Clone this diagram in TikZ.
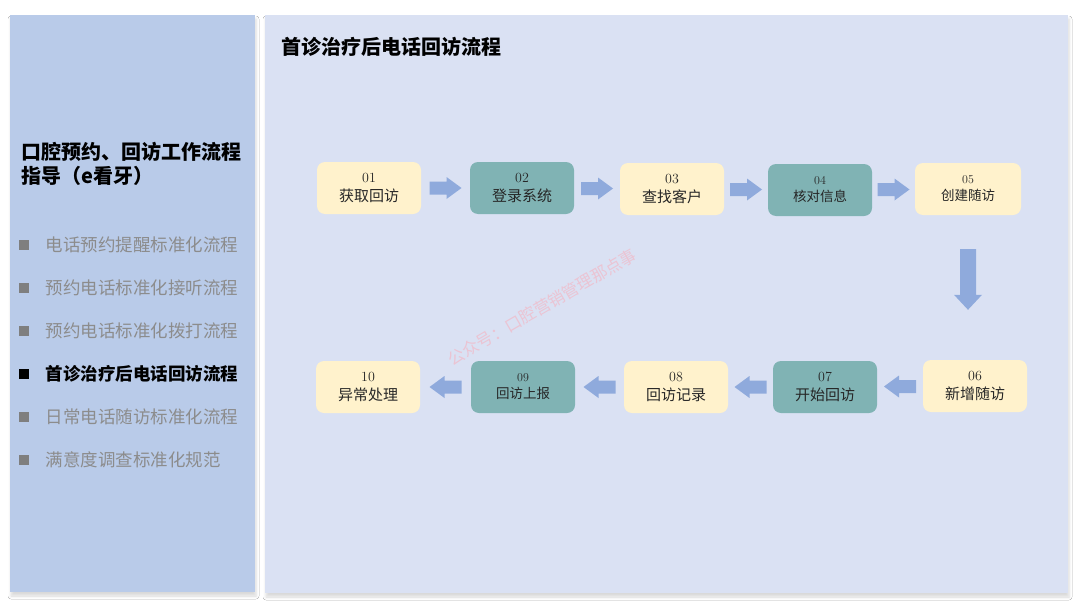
\documentclass[tikz,border=0pt]{standalone}
\usepackage{fontspec}
\newfontfamily\cjk{Noto Sans CJK SC}
\usetikzlibrary{calc,shadows.blur}
\definecolor{leftbg}{HTML}{B9CBE9}
\definecolor{rightbg}{HTML}{DAE1F3}
\definecolor{yel}{HTML}{FFF2CC}
\definecolor{tealbox}{HTML}{80B3B4}
\definecolor{arrc}{HTML}{8FAADC}
\definecolor{gtext}{HTML}{8C8C8C}
\definecolor{gbul}{HTML}{7F7F7F}
\definecolor{wmark}{HTML}{F2B8C6}
\newcommand{\harrow}[3]{%
  \path ($(#1)!0.5!(#2)$) coordinate (m);
  \fill[arrc, shift={(m)}, rotate=#3] (-16,-6.5) -- (1,-6.5) -- (1,-11) -- (16,0) -- (1,11) -- (1,6.5) -- (-16,6.5) -- cycle;}
\begin{document}
\begin{tikzpicture}[x=1pt,y=-1pt,
  panel/.style={draw=none, blur shadow={shadow xshift=1pt, shadow yshift=-4pt, shadow blur radius=3pt, shadow opacity=15}},
  stepbase/.style={rounded corners=8pt, minimum width=104pt, minimum height=52pt, align=center, inner sep=0pt, text=black!85},
  stepY/.style={stepbase, fill=yel, font=\fontsize{14}{19}\selectfont},
  stepT/.style={stepbase, fill=tealbox, font=\fontsize{14}{19}\selectfont},
  small/.style={font=\fontsize{12}{17}\selectfont},
  listitem/.style={anchor=west, text=gtext, font=\cjk\fontsize{17.5}{20}\selectfont},
  bullet/.style={fill=gbul, minimum size=10pt, inner sep=0pt},
]
\useasboundingbox (0,0) rectangle (1080,608);
\fill[white] (0,0) rectangle (1080,608);
% panels
\path[panel, fill=leftbg] (10,15) rectangle (255,592);
\path[panel, fill=rightbg] (265,15) rectangle (1068,593);
% left panel text
\node[anchor=west, font=\cjk\bfseries\fontsize{20}{24}\selectfont, align=left, text=black] (lt) at (18,164) {口腔预约、回访工作流程\\指导（e看牙）};
\node[bullet] (b1) at (24,245) {};
\node[listitem] (l1) at (42,245) {电话预约提醒标准化流程};
\node[bullet] (b2) at (24,288) {};
\node[listitem] (l2) at (42,288) {预约电话标准化接听流程};
\node[bullet] (b3) at (24,331) {};
\node[listitem] (l3) at (42,331) {预约电话标准化拨打流程};
\node[bullet, fill=black] (b4) at (24,374) {};
\node[listitem, text=black, font=\cjk\bfseries\fontsize{17.5}{20}\selectfont] (l4) at (42,374) {首诊治疗后电话回访流程};
\node[bullet] (b5) at (24,417) {};
\node[listitem] (l5) at (42,417) {日常电话随访标准化流程};
\node[bullet] (b6) at (24,460) {};
\node[listitem] (l6) at (42,460) {满意度调查标准化规范};
% right title
\node[anchor=west, font=\cjk\bfseries\fontsize{20}{24}\selectfont, text=black] (rt) at (278,47) {首诊治疗后电话回访流程};
% watermark
\node[rotate=30, text=wmark, opacity=0.7, font=\cjk\fontsize{16.5}{18}\selectfont] (wm) at (542,307) {公众号：口腔营销管理那点事};
% steps
\node[stepY] (s1) at (369,188) {01\\{\cjk\fontsize{15}{19}\selectfont 获取回访}};
\node[stepT] (s2) at (522,188) {02\\{\cjk\fontsize{15}{19}\selectfont 登录系统}};
\node[stepY] (s3) at (672,189) {03\\{\cjk\fontsize{15}{19}\selectfont 查找客户}};
\node[stepT, small] (s4) at (820,190) {04\\{\cjk\fontsize{13.5}{17}\selectfont 核对信息}};
\node[stepY, small, minimum width=106pt] (s5) at (968,189) {05\\{\cjk\fontsize{13.5}{17}\selectfont 创建随访}};
\node[stepY] (s6) at (975,386) {06\\{\cjk\fontsize{15}{19}\selectfont 新增随访}};
\node[stepT] (s7) at (825,387) {07\\{\cjk\fontsize{15}{19}\selectfont 开始回访}};
\node[stepY] (s8) at (676,387) {08\\{\cjk\fontsize{15}{19}\selectfont 回访记录}};
\node[stepT, small] (s9) at (523,387) {09\\{\cjk\fontsize{13.5}{17}\selectfont 回访上报}};
\node[stepY] (s10) at (368,387) {10\\{\cjk\fontsize{15}{19}\selectfont 异常处理}};
% arrows
\harrow{s1.east}{s2.west}{0}
\harrow{s2.east}{s3.west}{0}
\harrow{s3.east}{s4.west}{0}
\harrow{s4.east}{s5.west}{0}
\harrow{s6.west}{s7.east}{180}
\harrow{s7.west}{s8.east}{180}
\harrow{s8.west}{s9.east}{180}
\harrow{s9.west}{s10.east}{180}
% down arrow from 05 to 06
\path (s5.south) ++(0,34) coordinate (dtop);
\path (dtop |- s6.north) ++(0,-50) coordinate (dbot);
\fill[arrc] ($(dtop)+(-8,0)$) -- ($(dtop)+(8,0)$) -- ($(dbot)+(8,-15)$) -- ($(dbot)+(14,-15)$) -- (dbot) -- ($(dbot)+(-14,-15)$) -- ($(dbot)+(-8,-15)$) -- cycle;
\end{tikzpicture}
\end{document}
